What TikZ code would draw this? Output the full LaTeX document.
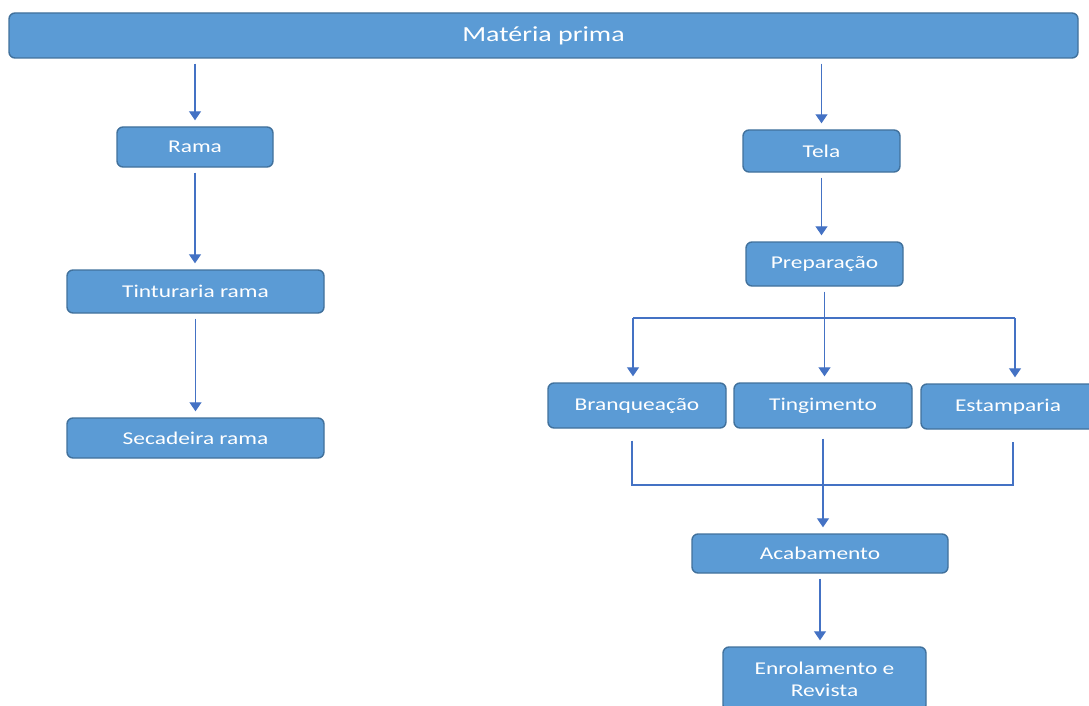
\documentclass[tikz,border=0pt]{standalone}
\usepackage{fontspec}
\setmainfont{Carlito}[FakeStretch=1.3]
\usetikzlibrary{arrows.meta}
\definecolor{boxfill}{HTML}{5B9BD5}
\definecolor{boxline}{HTML}{41719C}
\definecolor{arrowline}{HTML}{4472C4}
\newcommand{\labelfont}{\fontsize{18}{22}\selectfont}
\newcommand{\titlefont}{\fontsize{21.5}{26}\selectfont}

\tikzset{
  stepbox/.style={draw=boxline, fill=boxfill, line width=1.4pt, rounded corners=6pt,
    text=white, inner sep=0pt, align=center, font=\labelfont},
  flow/.style={draw=arrowline, line width=1.2pt, -{Triangle[width=12pt,length=9pt]},
    shorten <=5pt, shorten >=6pt},
  joinline/.style={draw=arrowline, line width=1.2pt}
}

\begin{document}
\begin{tikzpicture}[x=1pt, y=-1pt]
        \useasboundingbox (0, 0) rectangle (1089, 706);

        % boxes
        \node[stepbox, minimum width=1069pt, minimum height=45pt, font=\titlefont] (materia) at (543.5, 35.5) {Matéria prima};
        \node[stepbox, minimum width=156pt, minimum height=40pt] (rama) at (195, 147) {Rama};
        \node[stepbox, minimum width=257pt, minimum height=43pt] (tint) at (195.5, 291.5) {Tinturaria rama};
        \node[stepbox, minimum width=257pt, minimum height=40pt] (seca) at (195.5, 438) {Secadeira rama};
        \node[stepbox, minimum width=157pt, minimum height=42pt] (tela) at (821.5, 151) {Tela};
        \node[stepbox, minimum width=157pt, minimum height=44pt] (prep) at (824.5, 264) {Preparação};
        \node[stepbox, minimum width=178pt, minimum height=45pt] (bran) at (637, 405.5) {Branqueação};
        \node[stepbox, minimum width=178pt, minimum height=45pt] (ting) at (823, 405.5) {Tingimento};
        \node[stepbox, minimum width=174pt, minimum height=45pt] (estamp) at (1008, 406.5) {Estamparia};
        \node[stepbox, minimum width=256pt, minimum height=39pt] (acab) at (820, 553.5) {Acabamento};
        \node[stepbox, minimum width=203pt, minimum height=64pt] (enrol) at (824.5, 679) {Enrolamento e\\Revista};

        % branch points
        \coordinate (splitL) at (633, 318);
        \coordinate (splitR) at (1015, 318);
        \coordinate (joinL) at (632, 485);
        \coordinate (joinR) at (1013, 485);

        % left chain
        \draw[flow] (rama.north |- materia.south) -- (rama.north);
        \draw[flow] (rama.south) -- (rama.south |- tint.north);
        \draw[flow] (tint.south) -- (tint.south |- seca.north);

        % right chain
        \draw[flow] (tela.north |- materia.south) -- (tela.north);
        \draw[flow] (tela.south) -- (tela.south |- prep.north);
        \draw[flow] (prep.south) -- (prep.south |- ting.north);
        \draw[joinline] (splitL) -- (splitR);
        \draw[flow, shorten <=0pt] (splitL) -- (splitL |- bran.north);
        \draw[flow, shorten <=0pt] (splitR) -- (splitR |- estamp.north);

        % merge into finishing
        \draw[joinline, shorten <=12pt, shorten >=12pt] (joinL |- bran.south) -- (joinL) -- (joinR) -- (joinR |- estamp.south);
        \draw[flow, shorten <=10pt] (ting.south) -- (ting.south |- acab.north);
        \draw[flow] (acab.south) -- (acab.south |- enrol.north);
\end{tikzpicture}
\end{document}
